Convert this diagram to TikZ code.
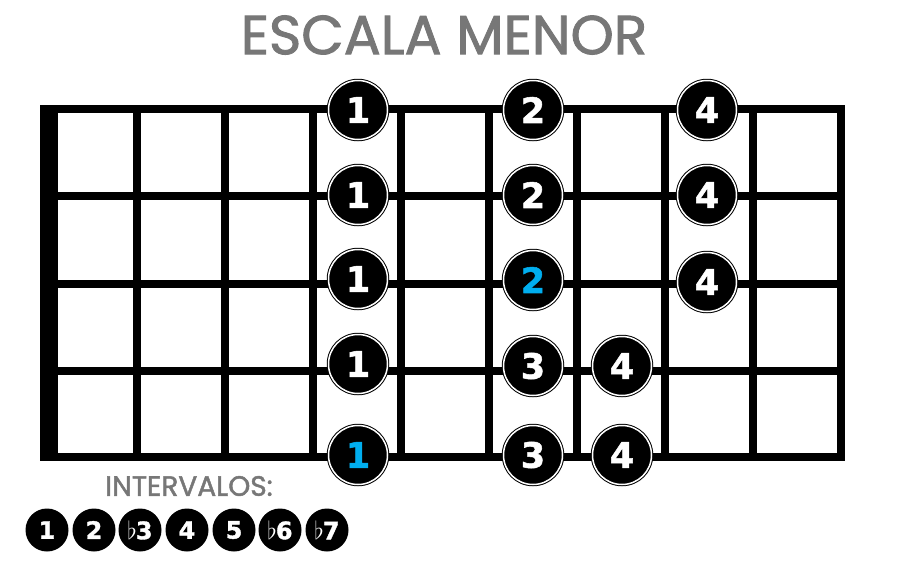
\documentclass[tikz,border=0pt]{standalone}
\usepackage[dvipsnames]{xcolor}
\usepackage{fontspec}
\usepackage{tikz}
\newfontfamily\titlefont{Poppins}[FakeBold=1.6]
\newfontfamily\digitfont{DejaVu Sans}[BoldFeatures={FakeBold=1.5}]
\definecolor{TitleGray}{HTML}{777777}
\definecolor{RootBlue}{HTML}{00AEEF}
\tikzset{
  fret/.style={line width=8pt},
  dot/.style={circle, fill=black, draw=black, double=white, double distance=1.5pt,
    line width=1pt, minimum size=59pt, inner sep=0pt, text=white,
    font=\digitfont\bfseries\fontsize{35}{35}\selectfont},
  ival/.style={circle, fill=black, minimum size=43pt, inner sep=0pt, text=white,
    font=\digitfont\bfseries\fontsize{24}{24}\selectfont},
  root/.style={text=RootBlue}
}

\begin{document}
\begin{tikzpicture}[x=1pt, y=-1pt]
\useasboundingbox (0,0) rectangle (900,563);

\node[text=TitleGray, font=\titlefont\fontsize{55}{55}\selectfont] (title) at (444,35) {ESCALA MENOR};

\fill[black] (40,105) rectangle (58,461);
\draw[fret] (49,109) -- (845,109);
\draw[fret] (49,196) -- (845,196);
\draw[fret] (49,284) -- (845,284);
\draw[fret] (49,371) -- (845,371);
\draw[fret] (49,457) -- (845,457);

\draw[fret] (137,105) -- (137,461);
\draw[fret] (225,105) -- (225,461);
\draw[fret] (313,105) -- (313,461);
\draw[fret] (401,105) -- (401,461);
\draw[fret] (489,105) -- (489,461);
\draw[fret] (577,105) -- (577,461);
\draw[fret] (665,105) -- (665,461);
\draw[fret] (753,105) -- (753,461);
\draw[fret] (841,105) -- (841,461);

\node[dot]      (s1a) at (358,110) {1};
\node[dot]      (s2a) at (358,195) {1};
\node[dot]      (s3a) at (358,279) {1};
\node[dot]      (s4a) at (358,364) {1};
\node[dot,root] (s5a) at (358,455) {1};

\node[dot]      (s1b) at (533,110) {2};
\node[dot]      (s2b) at (533,195) {2};
\node[dot,root] (s3b) at (533,280) {2};
\node[dot]      (s4b) at (533,366) {3};
\node[dot]      (s5b) at (533,455) {3};

\node[dot]      (s4c) at (622,366) {4};
\node[dot]      (s5c) at (622,455) {4};

\node[dot]      (s1d) at (707,110) {4};
\node[dot]      (s2d) at (707,195) {4};
\node[dot]      (s3d) at (707,282) {4};

\node[text=TitleGray, font=\titlefont\fontsize{28}{28}\selectfont] (ivlabel) at (189,486) {INTERVALOS:};

\node[ival] (iv1) at ( 47,530) {1};
\node[ival] (iv2) at ( 94,530) {2};
\node[ival] (iv3) at (140,530) {$\flat$\kern-1pt3};
\node[ival] (iv4) at (187,530) {4};
\node[ival] (iv5) at (234,530) {5};
\node[ival] (iv6) at (280,530) {$\flat$\kern-1pt6};
\node[ival] (iv7) at (327,530) {$\flat$\kern-1pt7};

\end{tikzpicture}
\end{document}
